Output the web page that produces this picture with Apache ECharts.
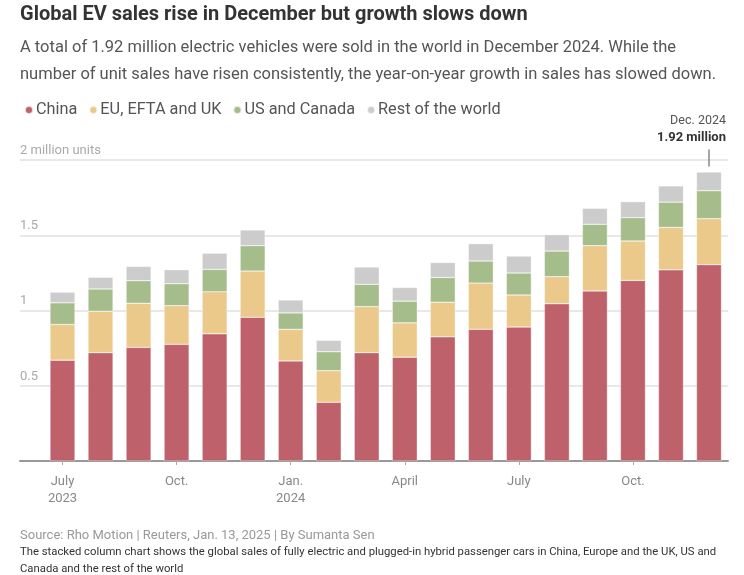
<!DOCTYPE html>
<html>
<head>
<meta charset="utf-8">
<script src="https://cdn.jsdelivr.net/npm/echarts@6/dist/echarts.min.js"></script>
<style>
html,body{margin:0;padding:0;background:#fff;}
#chart{width:744px;height:575px;}
</style>
</head>
<body>
<div id="chart"></div>
<script>
// ---- Data (million units) ----
var months = ['Jul 2023','Aug 2023','Sep 2023','Oct 2023','Nov 2023','Dec 2023',
              'Jan 2024','Feb 2024','Mar 2024','Apr 2024','May 2024','Jun 2024',
              'Jul 2024','Aug 2024','Sep 2024','Oct 2024','Nov 2024','Dec 2024'];
var tickLabels = ['July\n2023','','','Oct.','','','Jan.\n2024','','','April','','','July','','','Oct.','',''];
var china = [0.67,0.72,0.755,0.775,0.845,0.955,0.665,0.39,0.72,0.69,0.825,0.875,0.89,1.045,1.13,1.2,1.27,1.305];
var europe = [0.237,0.275,0.293,0.257,0.279,0.307,0.21,0.21,0.306,0.228,0.23,0.307,0.213,0.18,0.301,0.262,0.282,0.305];
var usCanada = [0.144,0.148,0.15,0.146,0.149,0.169,0.109,0.126,0.148,0.144,0.164,0.147,0.146,0.17,0.142,0.155,0.168,0.186];
var restOfWorld = [0.071,0.078,0.095,0.093,0.108,0.104,0.086,0.076,0.115,0.091,0.1,0.115,0.113,0.109,0.106,0.106,0.108,0.124];
var seriesNames = ['China','EU, EFTA and UK','US and Canada','Rest of the world'];
var yTicks = {0.5:'0.5', 1:'1', 1.5:'1.5', 2:'2 million units'};

var colors = ['#bf616a','#ebc98a','#a4bd8b','#cccccc'];
var FONT = 'Roboto';

var lastIdx = months.length - 1;
var lastTotal = china[lastIdx] + europe[lastIdx] + usCanada[lastIdx] + restOfWorld[lastIdx];

var chart = echarts.init(document.getElementById('chart'), null, {renderer:'canvas'});

function barSeries(name, data, idx, extra) {
  var s = {
    name: name, type: 'bar', stack: 'total', xAxisIndex: 1, yAxisIndex: 1,
    data: data, barWidth: 25,
    itemStyle: {color: colors[idx], borderColor: 'rgba(255,255,255,0.7)', borderWidth: 0.5},
    emphasis: {disabled: true}
  };
  if (extra) for (var k in extra) s[k] = extra[k];
  return s;
}

var option = {
  animation: false,
  textStyle: {fontFamily: FONT},
  color: colors,
  title: [
    {text: 'Global EV sales rise in December but growth slows down', left: 15, top: 0,
     textStyle: {fontFamily: FONT, fontSize: 20, fontWeight: 'bold', color: '#333'}},
    {text: 'A total of 1.92 million electric vehicles were sold in the world in December 2024. While the\nnumber of unit sales have risen consistently, the year-on-year growth in sales has slowed down.',
     left: 15, top: 29,
     textStyle: {fontFamily: FONT, fontSize: 16.5, fontWeight: 'normal', color: '#555', lineHeight: 27}},
    {text: 'Source: Rho Motion | Reuters, Jan. 13, 2025 | By Sumanta Sen', left: 15, top: 524,
     textStyle: {fontFamily: FONT, fontSize: 13, fontWeight: 'normal', color: '#999'}},
    {text: 'The stacked column chart shows the global sales of fully electric and plugged-in hybrid passenger cars in China, Europe and the UK, US and\nCanada and the rest of the world',
     left: 15, top: 539,
     textStyle: {fontFamily: FONT, fontSize: 11.3, fontWeight: 'normal', color: '#333', lineHeight: 17}}
  ],
  legend: {
    left: 19, top: 97, icon: 'circle', itemWidth: 8, itemHeight: 8, itemGap: 11,
    data: seriesNames, selectedMode: false,
    textStyle: {fontFamily: FONT, fontSize: 16.3, color: '#555', padding: [0,0,0,-2]}
  },
  grid: [
    {left: 20, right: 16, top: 160, bottom: 114},
    {left: 43.5, right: 16, top: 160, bottom: 114}
  ],
  xAxis: [
    {gridIndex: 0, type: 'value', min: 0, max: 1, show: true,
     axisLine: {show: true, lineStyle: {color: '#999', width: 2}},
     axisTick: {show: false}, axisLabel: {show: false}, splitLine: {show: false}},
    {gridIndex: 1, type: 'category', data: months,
     axisLine: {show: false},
     axisTick: {show: true, alignWithLabel: true, length: 4, lineStyle: {color: '#aaa'},
                interval: function(i){ return tickLabels[i] !== ''; }},
     axisLabel: {interval: 0, margin: 12, fontFamily: FONT, fontSize: 13, color: '#888', lineHeight: 17,
                 formatter: function(v, i){ return tickLabels[i]; }}}
  ],
  yAxis: [
    {gridIndex: 0, type: 'value', min: 0, max: 2, interval: 0.5,
     axisLine: {show: false}, axisTick: {show: false},
     splitLine: {show: true, lineStyle: {color: '#e0e0e0', width: 1.5}},
     axisLabel: {inside: true, margin: 0, align: 'left', verticalAlign: 'bottom', padding: [0,0,3,0],
                 fontFamily: FONT, fontSize: 13, color: '#aaa',
                 formatter: function(v){ return yTicks[v] || ''; }}},
    {gridIndex: 1, type: 'value', min: 0, max: 2, interval: 0.5, show: false,
     splitLine: {show: false}}
  ],
  series: [
    barSeries(seriesNames[0], china, 0),
    barSeries(seriesNames[1], europe, 1),
    barSeries(seriesNames[2], usCanada, 2),
    barSeries(seriesNames[3], restOfWorld, 3, {
      markPoint: {
        silent: true,
        symbol: 'rect', symbolSize: [1.5, 17], symbolOffset: [0, -14],
        itemStyle: {color: '#888'},
        data: [{coord: [months[lastIdx], lastTotal]}],
        label: {
          show: true, position: 'top', distance: 3, align: 'right', offset: [17, 0],
          formatter: '{a|Dec. 2024}\n{b|' + lastTotal.toFixed(2) + ' million}',
          rich: {
            a: {fontFamily: FONT, fontSize: 12.5, color: '#555', align: 'right', lineHeight: 17},
            b: {fontFamily: FONT, fontSize: 13, fontWeight: 'bold', color: '#333', align: 'right', lineHeight: 17}
          }
        }
      }
    })
  ]
};
chart.setOption(option);
</script>
</body>
</html>
